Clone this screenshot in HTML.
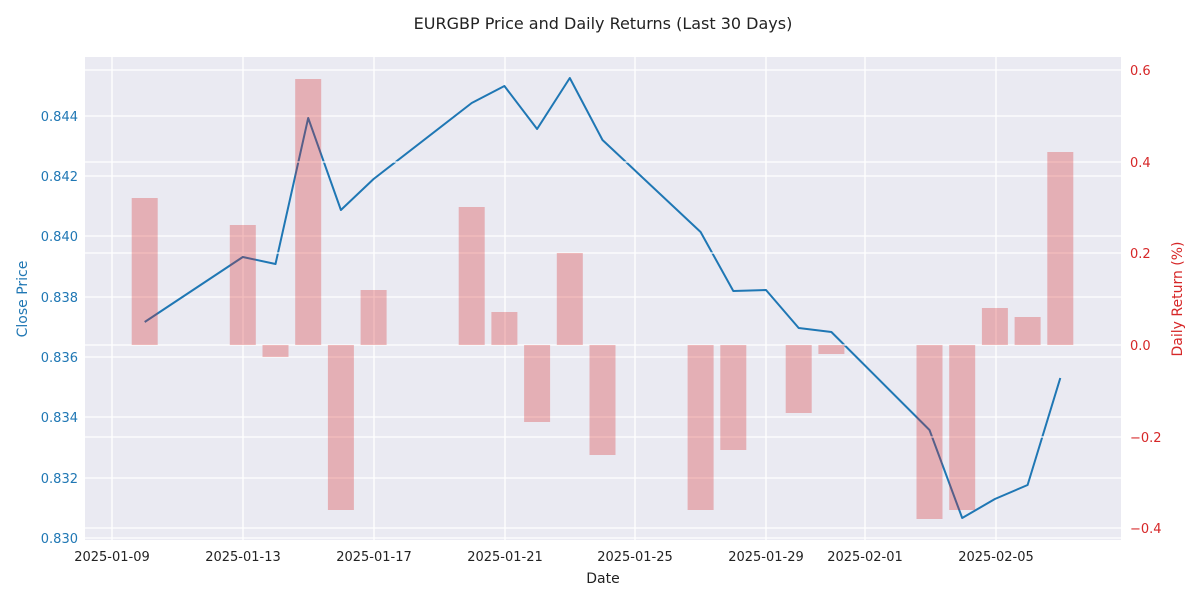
<!DOCTYPE html>
<html><head><meta charset="utf-8"><style>body{margin:0;background:#fff}svg{display:block}text{font-family:"DejaVu Sans","Liberation Sans",sans-serif}</style></head>
<body>
<svg width="1200" height="600" viewBox="0 0 1200 600" xmlns="http://www.w3.org/2000/svg">
<rect width="1200" height="600" fill="#fff"/>
<text x="603" y="29" font-size="16" text-anchor="middle" fill="#222">EURGBP Price and Daily Returns (Last 30 Days)</text>
<rect x="85" y="57" width="1036" height="483" fill="#eaeaf2"/>
<g stroke="#fff" stroke-width="1.3">
<line x1="112" y1="57" x2="112" y2="540"/><line x1="243" y1="57" x2="243" y2="540"/><line x1="374" y1="57" x2="374" y2="540"/><line x1="505" y1="57" x2="505" y2="540"/><line x1="635" y1="57" x2="635" y2="540"/><line x1="766" y1="57" x2="766" y2="540"/><line x1="865" y1="57" x2="865" y2="540"/><line x1="996" y1="57" x2="996" y2="540"/>
<line x1="85" y1="538" x2="1121" y2="538"/><line x1="85" y1="478" x2="1121" y2="478"/><line x1="85" y1="417" x2="1121" y2="417"/><line x1="85" y1="357" x2="1121" y2="357"/><line x1="85" y1="297" x2="1121" y2="297"/><line x1="85" y1="236" x2="1121" y2="236"/><line x1="85" y1="176" x2="1121" y2="176"/><line x1="85" y1="116" x2="1121" y2="116"/>
</g>
<polyline fill="none" stroke="#1f77b4" stroke-width="2" stroke-linejoin="round" points="144.7,322 242.8,257 275.5,264 308.2,118 340.9,210 373.6,179 471.7,103 504.4,86 537.1,129 569.8,78 602.5,140 700.6,232 733.3,291 766,290 798.7,328 831.4,332 929.5,430 962.2,518 994.9,499 1027.6,485 1060.3,378"/>
<g stroke="#fff" stroke-width="1.3">
<line x1="85" y1="70" x2="1121" y2="70"/><line x1="85" y1="162" x2="1121" y2="162"/><line x1="85" y1="253" x2="1121" y2="253"/><line x1="85" y1="345" x2="1121" y2="345"/><line x1="85" y1="437" x2="1121" y2="437"/><line x1="85" y1="528" x2="1121" y2="528"/>
</g>
<g fill="#d62728" fill-opacity="0.3">
<rect x="131.7" y="198" width="26" height="147"/>
<rect x="229.8" y="225" width="26" height="120"/>
<rect x="262.5" y="345" width="26" height="12"/>
<rect x="295.2" y="79" width="26" height="266"/>
<rect x="327.9" y="345" width="26" height="165"/>
<rect x="360.6" y="290" width="26" height="55"/>
<rect x="458.7" y="207" width="26" height="138"/>
<rect x="491.4" y="312" width="26" height="33"/>
<rect x="524.1" y="345" width="26" height="77"/>
<rect x="556.8" y="253" width="26" height="92"/>
<rect x="589.5" y="345" width="26" height="110"/>
<rect x="687.6" y="345" width="26" height="165"/>
<rect x="720.3" y="345" width="26" height="105"/>
<rect x="785.7" y="345" width="26" height="68"/>
<rect x="818.4" y="345" width="26" height="9"/>
<rect x="916.5" y="345" width="26" height="174"/>
<rect x="949.2" y="345" width="26" height="165"/>
<rect x="981.9" y="308" width="26" height="37"/>
<rect x="1014.6" y="317" width="26" height="28"/>
<rect x="1047.3" y="152" width="26" height="193"/>
</g>
<g font-size="13" fill="#1f77b4" text-anchor="end">
<text x="78" y="543">0.830</text><text x="78" y="483">0.832</text><text x="78" y="422">0.834</text><text x="78" y="362">0.836</text><text x="78" y="302">0.838</text><text x="78" y="241">0.840</text><text x="78" y="181">0.842</text><text x="78" y="121">0.844</text>
</g>
<g font-size="13" fill="#d62728">
<text x="1130" y="75">0.6</text><text x="1130" y="167">0.4</text><text x="1130" y="258">0.2</text><text x="1130" y="350">0.0</text><text x="1130" y="442">−0.2</text><text x="1130" y="533">−0.4</text>
</g>
<g font-size="13" fill="#222" text-anchor="middle">
<text x="112" y="561">2025-01-09</text><text x="243" y="561">2025-01-13</text><text x="374" y="561">2025-01-17</text><text x="505" y="561">2025-01-21</text><text x="635" y="561">2025-01-25</text><text x="766" y="561">2025-01-29</text><text x="865" y="561">2025-02-01</text><text x="996" y="561">2025-02-05</text>
</g>
<text x="603" y="583" font-size="14" fill="#222" text-anchor="middle">Date</text>
<text transform="translate(27,299) rotate(-90)" font-size="14" fill="#1f77b4" text-anchor="middle">Close Price</text>
<text transform="translate(1182,299) rotate(-90)" font-size="14" fill="#d62728" text-anchor="middle">Daily Return (%)</text>
</svg>
</body></html>
